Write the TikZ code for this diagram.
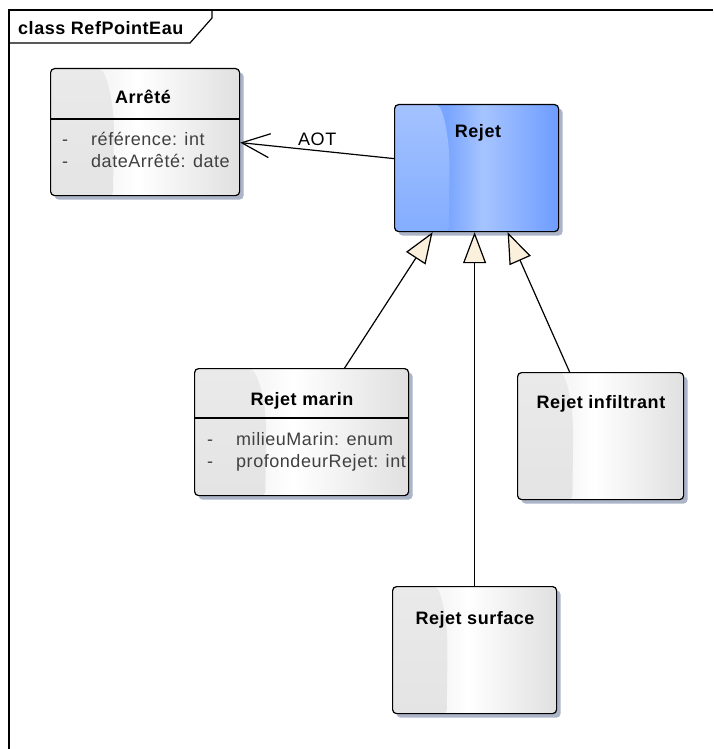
\documentclass[tikz,border=0pt]{standalone}
\usepackage{fontspec}
\setmainfont{Liberation Sans}[LetterSpace=3]
\usetikzlibrary{arrows.meta,shadows,calc}

\definecolor{grayleft}{HTML}{EAEAEA}
\definecolor{grayleftb}{HTML}{E4E4E4}
\definecolor{graymid}{HTML}{F7F7F7}
\definecolor{grayright}{HTML}{E0E0E0}
\definecolor{blueleft}{HTML}{A3C2FF}
\definecolor{blueleftb}{HTML}{84ADFF}
\definecolor{bluemid}{HTML}{79A5FF}
\definecolor{bluelight}{HTML}{A6C4FF}
\definecolor{blueright}{HTML}{6E9CFF}
\definecolor{shadowc}{RGB}{172,180,200}
\definecolor{cream}{HTML}{FBF0DC}
\definecolor{attrc}{HTML}{404040}

% horizontal glass shadings for the class boxes (25bp..75bp spans the box)
\pgfdeclarehorizontalshading{glassgray}{100bp}{color(0bp)=(graymid); color(25bp)=(graymid); color(41bp)=(graymid); color(48bp)=(white); color(75bp)=(grayright); color(100bp)=(grayright)}
\pgfdeclarehorizontalshading{glassblue}{100bp}{color(0bp)=(bluemid); color(25bp)=(bluemid); color(41bp)=(bluemid); color(52bp)=(bluelight); color(75bp)=(blueright); color(100bp)=(blueright)}

\tikzset{
  every node/.style={font=\fontsize{18pt}{21pt}\selectfont},
  % curved band on the left part of a box
  glassleft/.style 2 args={path picture={
    \path[top color=#1, bottom color=#2]
      let \p1=(path picture bounding box.north west),
          \p2=(path picture bounding box.south east) in
      (\x1,\y1) -- ({\x1+0.27*(\x2-\x1)},\y1)
      .. controls ({\x1+0.31*(\x2-\x1)},{\y1-15pt}) and ({\x1+0.33*(\x2-\x1)},{\y1-35pt})
      .. ({\x1+0.335*(\x2-\x1)},{\y1-60pt})
      -- ({\x1+0.33*(\x2-\x1)},\y2) -- (\x1,\y2) -- cycle;
  }},
  classbox/.style={draw, line width=1.2pt, rounded corners=4pt, anchor=north west,
    inner sep=0pt, minimum height=127pt,
    drop shadow={shadow xshift=4pt, shadow yshift=-4pt, fill=shadowc, opacity=1}},
  graybox/.style={classbox, shade, shading=glassgray, glassleft={grayleft}{grayleftb}},
  bluebox/.style={classbox, shade, shading=glassblue, glassleft={blueleft}{blueleftb}},
  titletxt/.style={inner sep=0pt, anchor=base, font=\fontsize{18pt}{21pt}\selectfont\bfseries},
  attrtxt/.style={inner sep=0pt, anchor=base west, text=attrc},
  rule/.style={line width=1.2pt},
  conn/.style={line width=1.2pt},
  gen/.style={conn, -{Triangle[length=31pt,width=23pt,fill=cream]}},
  assoc/.style={conn, -{Straight Barb[length=28pt,width=24pt]}},
}

\begin{document}
\begin{tikzpicture}[x=1pt, y=-1pt]
\useasboundingbox (0,0) rectangle (713,749);

% diagram frame and its name tab
\draw[rule] (713,10) -- (9,10) -- (9,749);
\draw[rule] (9,43) -- (190,43) -- (212,18) -- (212,10);
\node[inner sep=0pt, anchor=base west, font=\fontsize{18pt}{21pt}\selectfont\bfseries] (frameT) at (18,35) {class RefPointEau};

% classes
\node[graybox, minimum width=189pt] (arrete) at (50,68) {};
\node[bluebox, minimum width=164pt] (rejet) at (394,104) {};
\node[graybox, minimum width=214pt] (marin) at (194,368) {};
\node[graybox, minimum width=166pt] (infil) at (517,372) {};
\node[graybox, minimum width=164pt] (surface) at (392,586) {};

% compartment rules
\coordinate (arreteDiv) at (0,119);
\coordinate (marinDiv) at (0,418);
\draw[rule] (arrete.west |- arreteDiv) -- (arrete.east |- arreteDiv);
\draw[rule] (marin.west |- marinDiv) -- (marin.east |- marinDiv);

% class names
\node[titletxt] (arreteT) at (143,104) {Arrêté};
\node[titletxt] (rejetT) at (478,138) {Rejet};
\node[titletxt] (marinT) at (302,405) {Rejet marin};
\node[titletxt] (infilT) at (601,408) {Rejet infiltrant};
\node[titletxt] (surfaceT) at (475,624) {Rejet surface};

% attributes
\node[attrtxt] (arreteV1) at (62,145) {-};
\node[attrtxt] (arreteA1) at (91,145) {référence: int};
\node[attrtxt] (arreteV2) at (62,167) {-};
\node[attrtxt] (arreteA2) at (91,167) {dateArrêté: date};
\node[attrtxt] (marinV1) at (207,445) {-};
\node[attrtxt] (marinA1) at (236,445) {milieuMarin: enum};
\node[attrtxt] (marinV2) at (207,467) {-};
\node[attrtxt] (marinA2) at (236,467) {profondeurRejet: int};

% association
\draw[assoc] ([yshift=9.5pt]rejet.west) -- ([yshift=-10.5pt]arrete.east);
\node[inner sep=0pt, anchor=base west] (aot) at (298,145) {AOT};

% generalisations
\draw[gen] ([xshift=43pt]marin.north) -- ([xshift=-44pt]rejet.south);
\draw[gen] (surface.north) -- (surface.north |- rejet.south);
\draw[gen] ([xshift=-31pt]infil.north) -- ([xshift=31pt]rejet.south);
\end{tikzpicture}
\end{document}
